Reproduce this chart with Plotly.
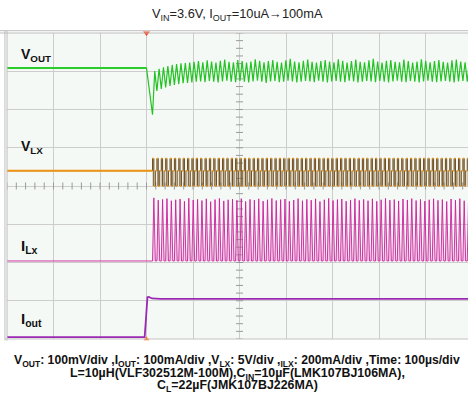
import plotly.graph_objects as go

# ---------------- data ----------------
# time base (µs), trigger at t = 0
time_per_div_us = 100
switch_start_us = 13.0
switch_period_us = 9.4
ton_us = 2.8
toff_us = 3.2
n_cycles = 73

# V_OUT (mV, deviation from the pre-step level)
vout_pre_t_us = [-300, 0]
vout_pre_mv = [0, 0]
vout_lo_mv = [-122, -60, -55, -51, -47, -44, -42, -40, -39, -38,
              -36, -35, -37, -34, -36, -38, -35, -33, -36, -37,
              -34, -36, -38, -35, -33, -36, -39, -35, -34, -37,
              -36, -33, -35, -38, -36, -34, -35, -37, -33, -36,
              -38, -35, -34, -36, -37, -33, -35, -38, -36, -34,
              -35, -37, -34, -36, -38, -35, -33, -36, -37, -34,
              -36, -38, -35, -33, -36, -37, -35, -34, -36, -38,
              -35, -34, -36]
vout_hi_mv = [-8, -2, 2, 5, 8, 10, 12, 13, 14, 16,
              18, 15, 20, 17, 14, 19, 22, 16, 15, 21,
              18, 14, 17, 23, 19, 15, 18, 21, 16, 14,
              20, 24, 17, 15, 19, 22, 16, 14, 18, 21,
              17, 15, 23, 19, 14, 18, 22, 16, 15, 20,
              24, 17, 14, 19, 21, 16, 15, 22, 18, 14,
              17, 23, 19, 15, 18, 21, 16, 14, 20, 22,
              17, 15, 19]

# V_LX (V)
vlx_idle_v = 2.0
vlx_high_v = 3.6
vlx_low_v = 0.0

# I_LX peak per cycle (mA)
ilx_pk_ma = [330, 318, 322, 326, 315, 320, 324, 312, 328, 319,
             322, 316, 325, 310, 321, 327, 314, 320, 323, 317,
             326, 311, 322, 318, 325, 313, 320, 327, 316, 321,
             324, 312, 319, 326, 315, 322, 318, 325, 311, 320,
             327, 316, 321, 324, 313, 319, 326, 317, 322, 315,
             325, 312, 320, 327, 318, 321, 314, 324, 319, 326,
             316, 322, 313, 320, 325, 317, 321, 311, 324, 318,
             326, 315, 320]

# I_OUT (mA)
iout_t_us = [-300, -4, -1, 2, 5, 12, 30, 700]
iout_ma = [0, 0, 50, 104, 105, 101, 100, 100]

# ---------------- channel placement (divisions from bottom) ----------------
T_MIN, T_MAX = -300, 691.4
CH = {
    "vout": dict(pos=7.085, per_div=100.0),
    "vlx": dict(pos=4.0, per_div=5.0),
    "ilx": dict(pos=2.04, per_div=200.0),
    "iout": dict(pos=0.05, per_div=100.0),
}


def to_div(ch, v):
    c = CH[ch]
    return None if v is None else c["pos"] + v / c["per_div"]


cycle_t0 = [switch_start_us + i * switch_period_us for i in range(n_cycles)]

# V_OUT trace
vx = list(vout_pre_t_us)
vy = [to_div("vout", v) for v in vout_pre_mv]
for t0, lo, hi in zip(cycle_t0, vout_lo_mv, vout_hi_mv):
    vx += [t0, t0 + ton_us + 0.6 * toff_us]
    vy += [to_div("vout", lo), to_div("vout", hi)]

# V_LX traces
lx_x = [T_MIN, switch_start_us]
lx_y = [to_div("vlx", vlx_idle_v)] * 2
box_x, box_y = [], []
hz_x, hz_y = [], []
for i, t0 in enumerate(cycle_t0):
    t1 = t0 + ton_us
    t2 = t1 + toff_us
    t3 = t0 + switch_period_us
    lx_x += [t0, t0, t1, t1, t2, t2, t3]
    lx_y += [to_div("vlx", v) for v in
             (vlx_idle_v, vlx_high_v, vlx_high_v, vlx_low_v, vlx_low_v, vlx_idle_v, vlx_idle_v)]
    box_x += [t0, t0, t1, t1, t0, None]
    box_y += [to_div("vlx", v) for v in (vlx_low_v, vlx_high_v, vlx_high_v, vlx_low_v, vlx_low_v)] + [None]
    hz_x += [t0, t1, None, t1, t2, None, t2, t3, None]
    hz_y += [to_div("vlx", vlx_high_v)] * 2 + [None] + [to_div("vlx", vlx_low_v)] * 2 + [None] + \
            [to_div("vlx", vlx_idle_v)] * 2 + [None]

# I_LX trace
ix = [T_MIN, switch_start_us]
iy = [to_div("ilx", 0)] * 2
for t0, pk in zip(cycle_t0, ilx_pk_ma):
    ix += [t0, t0 + ton_us, t0 + ton_us + toff_us]
    iy += [to_div("ilx", 0), to_div("ilx", pk), to_div("ilx", 0)]
ix += [T_MAX + 5]
iy += [to_div("ilx", 0)]

fig = go.Figure()

# centre-line graticule ticks
ctr_t = 200
tick_y = [k * 0.2 for k in range(41)]
tick_x = [T_MIN + k * 20 for k in range(51)]
fig.add_trace(go.Scatter(x=[ctr_t] * len(tick_y), y=tick_y, mode="markers",
                         marker=dict(symbol="line-ew", size=5, line=dict(width=1, color="#9a9a9a")),
                         hoverinfo="skip", showlegend=False))
fig.add_trace(go.Scatter(x=tick_x, y=[4] * len(tick_x), mode="markers",
                         marker=dict(symbol="line-ns", size=5, line=dict(width=1, color="#9a9a9a")),
                         hoverinfo="skip", showlegend=False))

# I_LX
fig.add_trace(go.Scatter(x=ix, y=iy, mode="lines", fill="toself",
                         fillcolor="rgba(222,150,206,0.40)",
                         line=dict(color="#cc1f9c", width=0.9), hoverinfo="skip", showlegend=False))
# V_LX
fig.add_trace(go.Scatter(x=box_x, y=box_y, mode="lines", fill="toself",
                         fillcolor="rgba(150,118,70,0.55)", line=dict(width=0),
                         hoverinfo="skip", showlegend=False))
fig.add_trace(go.Scatter(x=lx_x, y=lx_y, mode="lines",
                         line=dict(color="#6e4c1c", width=1), hoverinfo="skip", showlegend=False))
fig.add_trace(go.Scatter(x=hz_x, y=hz_y, mode="lines",
                         line=dict(color="#f0a020", width=1.5), hoverinfo="skip", showlegend=False))
fig.add_trace(go.Scatter(x=[T_MIN, switch_start_us], y=[to_div("vlx", vlx_idle_v)] * 2, mode="lines",
                         line=dict(color="#ee9515", width=2), hoverinfo="skip", showlegend=False))
# V_OUT
fig.add_trace(go.Scatter(x=vx, y=vy, mode="lines",
                         line=dict(color="#22c322", width=1.2), hoverinfo="skip", showlegend=False))
fig.add_trace(go.Scatter(x=vout_pre_t_us, y=[to_div("vout", v) for v in vout_pre_mv], mode="lines",
                         line=dict(color="#2ccc2c", width=2.2), hoverinfo="skip", showlegend=False))
# I_OUT
fig.add_trace(go.Scatter(x=iout_t_us, y=[to_div("iout", v) for v in iout_ma], mode="lines",
                         line=dict(color="#9a2ab4", width=1.8), hoverinfo="skip", showlegend=False))

# trigger markers
fig.add_trace(go.Scatter(x=[0], y=[8], mode="markers", cliponaxis=False,
                         marker=dict(symbol="triangle-down", size=6, color="#ff3a10"),
                         hoverinfo="skip", showlegend=False))
fig.add_trace(go.Scatter(x=[0], y=[0], mode="markers", cliponaxis=False,
                         marker=dict(symbol="triangle-up", size=5, color="#ff6a10"),
                         hoverinfo="skip", showlegend=False))

grid = dict(showgrid=True, gridcolor="#cdcdcd", gridwidth=1, zeroline=False,
            showticklabels=False, ticks="", showline=False)
fig.update_xaxes(range=[T_MIN, T_MAX], dtick=time_per_div_us, tick0=0, **grid)
fig.update_yaxes(range=[0, 8], dtick=1, tick0=0, **grid)

FONT = "Liberation Sans, Arial, sans-serif"


def lab(text, x, y, size=14, bold=True):
    fig.add_annotation(text=f"<b>{text}</b>" if bold else text, x=x, y=y, xref="x", yref="y",
                       xanchor="left", yanchor="middle", showarrow=False,
                       font=dict(family=FONT, size=size, color="#111"))


lab("V<sub>OUT</sub>", -274, 7.42)
lab("V<sub>LX</sub>", -274, 5.02)
lab("I<sub>Lx</sub>", -274, 2.41, size=15)
lab("I<sub>out</sub>", -274, 0.50, size=15)

fig.add_annotation(text="V<sub>IN</sub>=3.6V, I<sub>OUT</sub>=10uA→100mA", x=0.501, y=1.062,
                   xref="paper", yref="paper", xanchor="center", yanchor="middle", showarrow=False,
                   font=dict(family=FONT, size=12.8, color="#222"))
caption = [
    "<b>V<sub>OUT</sub>: 100mV/div ,I<sub>OUT</sub>: 100mA/div ,V<sub>LX</sub>: 5V/div ,<sub>ILX</sub>: 200mA/div ,Time: 100µs/div</b>",
    "<b>L=10µH(VLF302512M-100M),C<sub>IN</sub>=10µF(LMK107BJ106MA),</b>",
    "<b>C<sub>L</sub>=22µF(JMK107BJ226MA)</b>",
]
cap_sizes = [12.2, 12.4, 12.4]
for line, py, fs in zip(caption, [360.5, 373.5, 386.5], cap_sizes):
    fig.add_annotation(text=line, x=0.499, y=(339 - py) / 306, xref="paper", yref="paper",
                       xanchor="center", yanchor="middle", showarrow=False,
                       font=dict(family=FONT, size=fs, color="#111"))

# scope frame (double lines top and left)
for yy in (1.0, 1.0075):
    fig.add_shape(type="line", xref="paper", yref="paper", x0=-0.02, x1=1.0, y0=yy, y1=yy,
                  line=dict(color="#bdbdbd", width=1))
for xx in (0.0, -0.0045):
    fig.add_shape(type="line", xref="paper", yref="paper", x0=xx, x1=xx, y0=-0.005, y1=1.0075,
                  line=dict(color="#bdbdbd", width=1))
fig.add_shape(type="line", xref="paper", yref="paper", x0=-0.0045, x1=1.0, y0=0, y1=0,
              line=dict(color="#c4c4c4", width=1))

fig.update_layout(width=468, height=407, margin=dict(l=7, r=0, t=33, b=68),
                  paper_bgcolor="white", plot_bgcolor="#f5f9f6", showlegend=False)

fig.write_html("out.html", config={"displayModeBar": False},
               post_script="document.body.style.margin='0';document.body.style.padding='0';")
